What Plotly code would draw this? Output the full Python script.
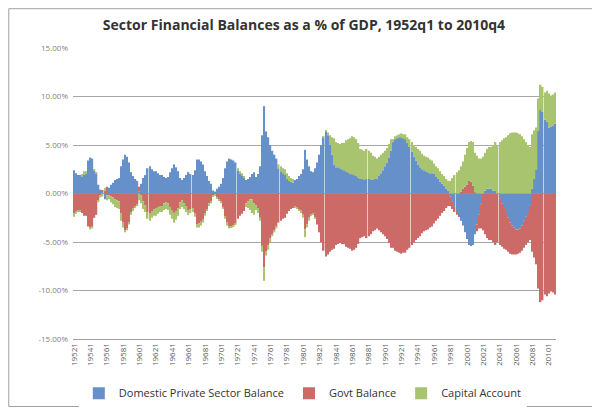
import plotly.graph_objects as go

# quarters 1952q1 .. 2010q4, labelled like Excel did ("19521" = 1952 q1)
years = list(range(1952, 2011))
quarters = [f"{y}{q}" for y in years for q in range(1, 5)]
tick_labels = quarters[::8]

# values in % of GDP, one line per year (q1..q4)
private_balance = [
    2.4, 2.1, 1.9, 1.9,    # 1952
    1.8, 1.9, 2.0, 3.4,    # 1953
    3.7, 3.6, 2.4, 2.1,    # 1954
    0.9, 0.4, 0.2, -0.6,   # 1955
    -0.2, 0.6, 0.9, 1.1,   # 1956
    1.4, 1.5, 1.6, 2.8,    # 1957
    3.5, 4.0, 3.8, 3.2,    # 1958
    2.2, 1.8, 1.5, 1.3,    # 1959
    0.2, 1.0, 1.6, 1.9,    # 1960
    2.6, 2.8, 2.5, 2.3,    # 1961
    2.3, 2.1, 1.9, 1.9,    # 1962
    1.7, 1.6, 1.7, 2.2,    # 1963
    2.6, 3.0, 2.7, 2.3,    # 1964
    1.6, 1.4, 1.6, 1.9,    # 1965
    2.2, 2.0, 1.9, 2.4,    # 1966
    3.5, 3.5, 3.3, 3.0,    # 1967
    2.3, 1.8, 1.3, 1.0,    # 1968
    0.3, 0.2, 0.5, 0.7,    # 1969
    1.0, 1.6, 2.6, 3.3,    # 1970
    3.6, 3.5, 3.4, 3.2,    # 1971
    2.4, 2.1, 1.9, 1.6,    # 1972
    1.4, 1.5, 1.7, 2.0,    # 1973
    2.2, 1.7, 2.0, 2.8,    # 1974
    6.0, 9.0, 6.4, 5.8,    # 1975
    5.0, 4.4, 4.0, 3.6,    # 1976
    2.6, 2.3, 2.1, 1.9,    # 1977
    1.5, 1.3, 1.2, 1.1,    # 1978
    1.4, 1.5, 1.8, 2.0,    # 1979
    2.5, 4.5, 3.5, 2.8,    # 1980
    2.3, 2.2, 2.6, 3.2,    # 1981
    4.0, 5.0, 5.8, 6.4,    # 1982
    6.0, 5.0, 4.0, 3.0,    # 1983
    2.7, 2.7, 2.6, 2.5,    # 1984
    2.4, 2.3, 2.2, 2.0,    # 1985
    2.0, 1.9, 1.8, 1.6,    # 1986
    1.5, 1.5, 1.4, 1.5,    # 1987
    1.5, 1.4, 1.4, 1.5,    # 1988
    1.5, 1.8, 2.1, 2.4,    # 1989
    2.8, 3.2, 3.7, 4.4,    # 1990
    5.3, 5.6, 5.7, 5.8,    # 1991
    5.8, 5.7, 5.6, 5.2,    # 1992
    4.8, 4.3, 3.8, 3.4,    # 1993
    3.0, 2.7, 2.5, 2.4,    # 1994
    2.3, 2.2, 2.1, 2.1,    # 1995
    2.0, 1.7, 1.5, 1.2,    # 1996
    1.0, 0.8, 0.5, 0.3,    # 1997
    -0.3, -0.8, -1.3, -1.8,  # 1998
    -2.3, -2.8, -3.3, -4.0,  # 1999
    -4.7, -5.3, -5.4, -5.3,  # 2000
    -4.2, -3.2, -2.2, -1.1,  # 2001
    0.0, 0.3, 0.5, 0.5,    # 2002
    0.5, 0.3, 0.3, 0.0,    # 2003
    -0.5, -1.0, -1.5, -2.0,  # 2004
    -2.5, -3.0, -3.3, -3.5,  # 2005
    -3.7, -3.7, -3.6, -3.3,  # 2006
    -2.8, -2.4, -1.9, -1.2,  # 2007
    0.5, 1.5, 2.5, 6.5,    # 2008
    8.6, 8.4, 7.6, 7.4,    # 2009
    6.8, 6.9, 7.0, 7.2,    # 2010
]

govt_balance = [
    -2.0, -1.9, -1.8, -1.8,  # 1952
    -2.0, -2.3, -2.3, -3.4,  # 1953
    -3.5, -3.4, -2.5, -2.2,  # 1954
    -0.7, -0.2, 0.1, 0.3,    # 1955
    0.7, -0.2, -0.3, -0.4,   # 1956
    -0.6, -0.7, -0.8, -2.0,  # 1957
    -3.0, -3.8, -3.6, -3.0,  # 1958
    -2.0, -1.5, -1.3, -1.1,  # 1959
    0.5, -0.2, -0.8, -1.2,   # 1960
    -1.9, -2.1, -1.8, -1.6,  # 1961
    -1.5, -1.4, -1.3, -1.3,  # 1962
    -1.0, -0.9, -1.0, -1.4,  # 1963
    -1.7, -2.0, -1.8, -1.5,  # 1964
    -0.9, -0.7, -1.0, -1.3,  # 1965
    -1.7, -1.6, -1.5, -2.0,  # 1966
    -3.2, -3.1, -2.9, -2.7,  # 1967
    -2.1, -1.6, -1.0, -0.8,  # 1968
    -0.2, -0.1, -0.4, -0.6,  # 1969
    -0.8, -1.4, -2.4, -3.0,  # 1970
    -3.4, -3.4, -3.3, -3.1,  # 1971
    -2.6, -2.3, -2.1, -1.8,  # 1972
    -1.0, -0.8, -0.6, -0.6,  # 1973
    -1.0, -1.2, -1.5, -2.5,  # 1974
    -5.4, -7.6, -6.0, -5.3,  # 1975
    -4.6, -4.2, -3.8, -3.4,  # 1976
    -3.0, -2.8, -2.6, -2.5,  # 1977
    -2.1, -1.8, -1.6, -1.5,  # 1978
    -1.3, -1.4, -1.6, -1.8,  # 1979
    -2.2, -3.7, -3.2, -2.5,  # 1980
    -2.2, -2.1, -2.5, -3.2,  # 1981
    -4.0, -5.0, -5.9, -6.5,  # 1982
    -6.3, -6.0, -5.8, -5.7,  # 1983
    -5.3, -5.2, -5.1, -5.2,  # 1984
    -5.2, -5.5, -5.6, -5.7,  # 1985
    -5.9, -5.8, -5.6, -5.2,  # 1986
    -4.6, -4.5, -4.4, -4.6,  # 1987
    -4.4, -4.2, -3.9, -3.8,  # 1988
    -3.6, -3.8, -4.0, -4.2,  # 1989
    -4.4, -4.7, -5.1, -5.6,  # 1990
    -5.6, -5.9, -6.0, -6.1,  # 1991
    -6.2, -6.1, -6.1, -5.8,  # 1992
    -5.6, -5.3, -5.0, -4.8,  # 1993
    -4.6, -4.4, -4.1, -3.9,  # 1994
    -3.8, -3.7, -3.5, -3.4,  # 1995
    -3.1, -2.8, -2.6, -2.3,  # 1996
    -2.0, -1.8, -1.5, -1.3,  # 1997
    -1.0, -0.8, -0.6, -0.4,  # 1998
    -0.1, 0.2, 0.5, 0.7,     # 1999
    0.9, 1.3, 1.2, 0.8,      # 2000
    0.1, -0.7, -1.4, -2.5,   # 2001
    -3.8, -4.2, -4.6, -4.8,  # 2002
    -4.8, -5.0, -5.3, -5.0,  # 2003
    -4.8, -4.5, -4.2, -3.8,  # 2004
    -3.5, -3.2, -3.0, -2.8,  # 2005
    -2.6, -2.5, -2.5, -2.6,  # 2006
    -2.8, -2.9, -3.1, -3.6,  # 2007
    -6.0, -6.6, -7.3, -9.8,  # 2008
    -11.2, -11.0, -10.4, -10.6,  # 2009
    -10.3, -10.1, -10.2, -10.4,  # 2010
]

capital_account = [
    -0.4, -0.2, -0.1, -0.1,  # 1952
    0.2, 0.4, 0.3, 0.0,      # 1953
    -0.2, -0.2, 0.1, 0.1,    # 1954
    -0.2, -0.2, -0.3, 0.3,   # 1955
    -0.5, -0.4, -0.6, -0.7,  # 1956
    -0.8, -0.8, -0.8, -0.8,  # 1957
    -0.5, -0.2, -0.2, -0.2,  # 1958
    -0.2, -0.3, -0.2, -0.2,  # 1959
    -0.7, -0.8, -0.8, -0.7,  # 1960
    -0.7, -0.7, -0.7, -0.7,  # 1961
    -0.8, -0.7, -0.6, -0.6,  # 1962
    -0.7, -0.7, -0.7, -0.8,  # 1963
    -0.9, -1.0, -0.9, -0.8,  # 1964
    -0.7, -0.7, -0.6, -0.6,  # 1965
    -0.5, -0.4, -0.4, -0.4,  # 1966
    -0.3, -0.4, -0.4, -0.3,  # 1967
    -0.2, -0.2, -0.3, -0.2,  # 1968
    -0.1, -0.1, -0.1, -0.1,  # 1969
    -0.2, -0.2, -0.2, -0.3,  # 1970
    -0.2, -0.1, -0.1, -0.1,  # 1971
    0.2, 0.2, 0.2, 0.2,      # 1972
    -0.4, -0.7, -1.1, -1.4,  # 1973
    -1.2, -0.5, -0.5, -0.3,  # 1974
    -0.6, -1.4, -0.4, -0.5,  # 1975
    -0.4, -0.2, -0.2, -0.2,  # 1976
    0.4, 0.5, 0.5, 0.6,      # 1977
    0.6, 0.5, 0.4, 0.4,      # 1978
    -0.1, -0.1, -0.2, -0.2,  # 1979
    -0.3, -0.8, -0.3, -0.3,  # 1980
    -0.1, -0.1, -0.1, 0.0,   # 1981
    0.0, 0.0, 0.1, 0.1,      # 1982
    0.3, 1.0, 1.8, 2.7,      # 1983
    2.6, 2.5, 2.5, 2.7,      # 1984
    2.8, 3.2, 3.4, 3.7,      # 1985
    3.9, 3.9, 3.8, 3.6,      # 1986
    3.1, 3.0, 3.0, 3.1,      # 1987
    2.9, 2.8, 2.5, 2.3,      # 1988
    2.1, 2.0, 1.9, 1.8,      # 1989
    1.6, 1.5, 1.4, 1.2,      # 1990
    0.3, 0.3, 0.3, 0.3,      # 1991
    0.4, 0.4, 0.5, 0.6,      # 1992
    0.8, 1.0, 1.2, 1.4,      # 1993
    1.6, 1.7, 1.6, 1.5,      # 1994
    1.5, 1.5, 1.4, 1.3,      # 1995
    1.1, 1.1, 1.1, 1.1,      # 1996
    1.0, 1.0, 1.0, 1.0,      # 1997
    1.3, 1.6, 1.9, 2.2,      # 1998
    2.4, 2.6, 2.8, 3.3,      # 1999
    3.8, 4.0, 4.2, 4.5,      # 2000
    4.1, 3.9, 3.6, 3.6,      # 2001
    3.8, 3.9, 4.1, 4.3,      # 2002
    4.3, 4.7, 5.0, 5.0,      # 2003
    5.3, 5.5, 5.7, 5.8,      # 2004
    6.0, 6.2, 6.3, 6.3,      # 2005
    6.3, 6.2, 6.1, 5.9,      # 2006
    5.6, 5.3, 5.0, 4.8,      # 2007
    5.6, 5.0, 4.3, 3.3,      # 2008
    2.6, 2.6, 2.8, 3.2,      # 2009
    3.5, 3.2, 3.2, 3.2,      # 2010
]

y_ticks = [-15, -10, -5, 0, 5, 10, 15]
y_tick_labels = [f"{v:.2f}%" for v in y_ticks]

fig = go.Figure()
fig.add_trace(go.Bar(x=quarters, y=private_balance, name="Domestic Private Sector Balance",
                     marker=dict(color="#6590C9", line=dict(width=0))))
fig.add_trace(go.Bar(x=quarters, y=govt_balance, name="Govt Balance",
                     marker=dict(color="#CC6A67", line=dict(width=0))))
fig.add_trace(go.Bar(x=quarters, y=capital_account, name="Capital Account",
                     marker=dict(color="#A8C46E", line=dict(width=0))))

# the page body adds an 8px offset, so the figure is 592x403 and the
# margins are set so the plot box lands where the Excel one sits
fig.update_layout(
    width=592, height=403,
    barmode="relative",
    bargap=0.3,
    paper_bgcolor="white",
    plot_bgcolor="white",
    margin=dict(l=65, r=44, t=40, b=72, autoexpand=False),
    font=dict(family="Open Sans, Liberation Sans, sans-serif", color="#404040"),
    title=dict(
        text="<b>Sector Financial Balances as a % of GDP, 1952q1 to 2010q4</b>",
        x=0.5, xanchor="center", y=0.958, yanchor="middle",
        font=dict(size=14, color="#333333"),
    ),
    showlegend=True,
    legend=dict(
        orientation="h", x=0.498, xref="container", xanchor="center",
        y=-0.186, yanchor="middle",
        font=dict(size=11, color="#333333"),
        traceorder="normal",
    ),
    xaxis=dict(
        type="category",
        tickmode="array", tickvals=tick_labels, ticktext=tick_labels,
        tickangle=-90,
        tickfont=dict(size=8, color="#595959"),
        showgrid=False,
        showline=True, linecolor="#A0A0A0", linewidth=1,
        ticks="",
    ),
    yaxis=dict(
        range=[-15, 15],
        tickmode="array", tickvals=y_ticks, ticktext=y_tick_labels,
        tickfont=dict(size=8, color="#7F7F7F"),
        showgrid=True, gridcolor="#A6A6A6", gridwidth=1,
        zeroline=False,
        ticks="", ticklabelstandoff=4,
    ),
)

# thin grey frame round the whole chart, like the Excel chart area
fig.add_shape(type="rect", xref="paper", yref="paper",
              x0=-0.133, x1=1.083, y0=-0.232, y1=1.135,
              line=dict(color="#A0A0A0", width=1), fillcolor="rgba(0,0,0,0)",
              layer="below")

fig.write_html("out.html")
